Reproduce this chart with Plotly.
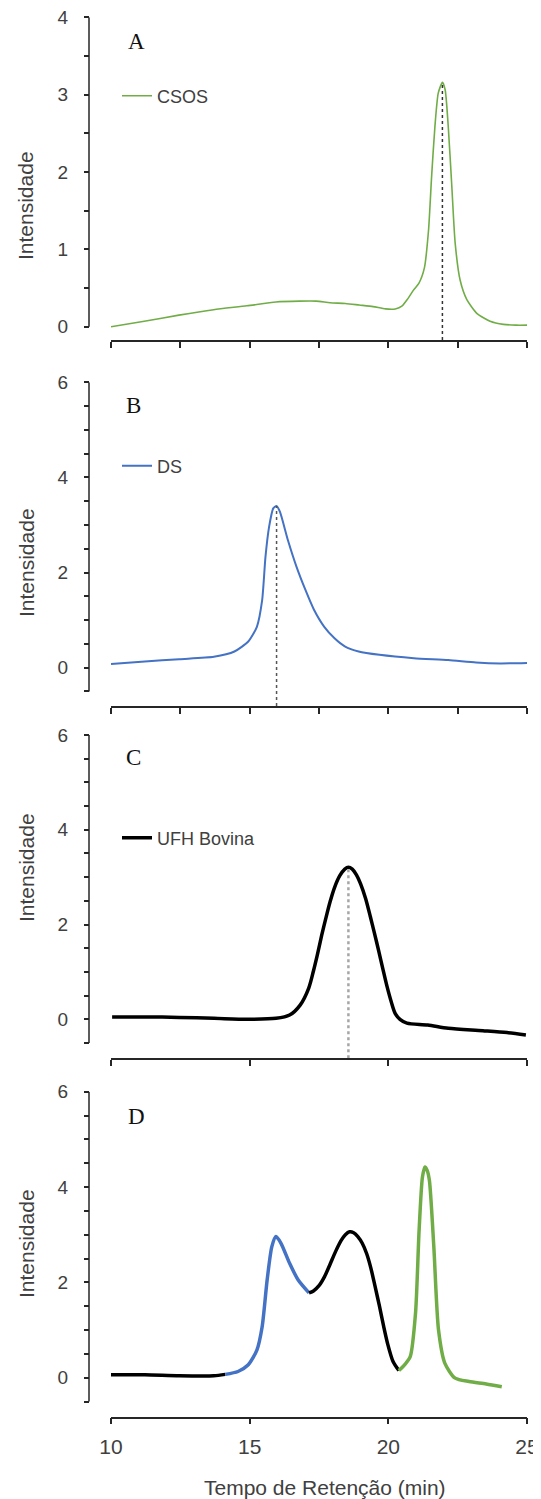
import plotly.graph_objects as go

# visible window is 541x1499; the page body has an 8px margin
OFF = 8
W, H = 541 - OFF, 1499 - OFF

# ---------------- data ----------------
# Panel A: CSOS
csos_x = [10.0, 11.2, 12.45, 13.7, 14.9, 15.95, 16.8, 17.4, 17.9, 18.45, 18.95, 19.45, 19.9,
          20.25, 20.5, 20.7, 20.9, 21.1, 21.3, 21.45, 21.56, 21.68, 21.8, 21.95, 22.05, 22.16,
          22.29, 22.41, 22.59, 22.83, 23.2, 23.67, 24.15, 24.6, 25.0]
csos_y = [0.0, 0.07, 0.15, 0.22, 0.27, 0.32, 0.33, 0.33, 0.31, 0.30, 0.28, 0.26, 0.23,
          0.23, 0.27, 0.36, 0.47, 0.56, 0.76, 1.25, 1.94, 2.59, 3.02, 3.16, 3.06, 2.59,
          1.81, 1.08, 0.60, 0.35, 0.17, 0.07, 0.03, 0.02, 0.02]

# Panel B: DS
ds_x = [10.0, 11.22, 12.46, 13.71, 14.45, 14.95, 15.26, 15.45, 15.57, 15.70, 15.85, 15.97,
        16.09, 16.38, 16.69, 17.0, 17.31, 17.69, 18.06, 18.43, 18.93, 19.68, 20.92, 22.16,
        23.16, 24.03, 25.0]
ds_y = [0.08, 0.13, 0.18, 0.23, 0.34, 0.55, 0.86, 1.42, 2.33, 2.96, 3.35, 3.40,
        3.28, 2.68, 2.12, 1.65, 1.23, 0.86, 0.62, 0.45, 0.34, 0.27, 0.20, 0.16,
        0.11, 0.09, 0.10]

# Panel C: UFH Bovina
ufh_x = [10.04, 11.22, 12.46, 13.71, 14.95, 15.95, 16.44, 16.82, 17.13, 17.3, 17.44, 17.6,
         17.75, 17.9, 18.06, 18.25, 18.43, 18.56, 18.7, 18.85, 19.0, 19.18, 19.35, 19.49,
         19.65, 19.80, 19.95, 20.11, 20.25, 20.42, 20.67, 21.42, 22.16, 23.41, 24.28, 24.96]
ufh_y = [0.05, 0.05, 0.04, 0.02, 0.0, 0.02, 0.09, 0.30, 0.66, 1.02, 1.36, 1.78,
         2.14, 2.48, 2.78, 3.03, 3.17, 3.21, 3.17, 3.05, 2.86, 2.55, 2.17, 1.84,
         1.45, 1.07, 0.70, 0.36, 0.12, 0.0, -0.08, -0.12, -0.19, -0.24, -0.28, -0.33]

# Panel D: mixture, coloured by component
mix_ufh_a_x = [10.0, 11.22, 12.46, 13.71, 14.12]
mix_ufh_a_y = [0.06, 0.06, 0.04, 0.04, 0.07]
mix_ds_x = [14.12, 14.58, 14.95, 15.26, 15.45, 15.63, 15.80, 15.95, 16.13, 16.44, 16.75, 17.14]
mix_ds_y = [0.07, 0.13, 0.27, 0.58, 1.07, 2.05, 2.75, 2.96, 2.82, 2.40, 2.05, 1.78]
mix_ufh_b_x = [17.14, 17.3, 17.5, 17.7, 17.9, 18.1, 18.3, 18.45, 18.6, 18.75, 18.9, 19.06,
               19.22, 19.37, 19.52, 19.68, 19.83, 19.98, 20.17, 20.38]
mix_ufh_b_y = [1.78, 1.82, 1.93, 2.12, 2.38, 2.65, 2.88, 3.00, 3.06, 3.04, 2.96, 2.82,
               2.60, 2.30, 1.92, 1.50, 1.08, 0.70, 0.34, 0.15]
mix_csos_x = [20.38, 20.6, 20.79, 20.98, 21.11, 21.23, 21.32, 21.40, 21.48, 21.64, 21.81,
              22.04, 22.41, 22.91, 23.53, 24.09]
mix_csos_y = [0.15, 0.28, 0.44, 1.35, 3.10, 4.21, 4.42, 4.35, 4.14, 2.75, 1.00,
              0.30, -0.01, -0.08, -0.13, -0.19]

panel_letters = ["A", "B", "C", "D"]
legend_names = ["CSOS", "DS", "UFH Bovina"]
x_tick_labels = [10, 15, 20, 25]
y_title = "Intensidade"
x_title = "Tempo de Retenção (min)"

# ---------------- style ----------------
FONT = "Liberation Sans, Arial, sans-serif"
SERIF = "Liberation Serif, Times New Roman, serif"
TXT = "#404040"
AXC = "#262626"
GREEN = "#70AD47"
BLUE = "#4472C4"
BLACK = "#000000"


def fx(p):
    """window pixel x -> paper fraction"""
    return (p - OFF) / W


def fy(p):
    """window pixel y -> paper fraction"""
    return 1 - (p - OFF) / H


# pixel geometry of each panel (window pixels)
panels = [
    dict(xline=340.0, ytop=17.3, yzero=326.7, top=4, bottom=0, dtick=1, xdtick=2.5),
    dict(xline=706.0, ytop=382.3, yzero=667.7, top=6, bottom=-0.5, dtick=2, xdtick=2.5),
    dict(xline=1058.3, ytop=735.0, yzero=1019.3, top=6, bottom=-0.5, dtick=2, xdtick=5),
    dict(xline=1416.7, ytop=1091.7, yzero=1377.7, top=6, bottom=-0.5, dtick=2, xdtick=5),
]
X0, X1, YAX = 111, 527, 89

fig = go.Figure()
layout = dict(width=W, height=H, margin=dict(l=0, r=0, t=0, b=0, pad=0, autoexpand=False),
              paper_bgcolor="white", plot_bgcolor="white", showlegend=True,
              font=dict(family=FONT, color=TXT))
shapes, annotations = [], []

for i, p in enumerate(panels):
    n = "" if i == 0 else str(i + 1)
    unit = (p["yzero"] - p["ytop"]) / p["top"]
    r_lo = -(p["xline"] - p["yzero"]) / unit
    p["r_lo"] = r_lo
    layout["xaxis" + n] = dict(
        domain=[fx(X0), fx(X1)], anchor="y" + n, range=[10, 25], automargin=False,
        showline=True, linecolor=AXC, linewidth=1.5, mirror=False,
        ticks="outside", ticklen=6, tickwidth=1.5, tickcolor=AXC,
        tick0=10, dtick=p["xdtick"], showgrid=False, zeroline=False,
        showticklabels=(i == 3), tickfont=dict(size=21, color=TXT),
        ticklabelstandoff=4, ticklabeloverflow="allow",
    )
    if i == 3:
        layout["xaxis" + n]["tickvals"] = x_tick_labels
    layout["yaxis" + n] = dict(
        domain=[fy(p["xline"]), fy(p["ytop"])], anchor="free", position=fx(YAX),
        range=[r_lo, p["top"]], automargin=False,
        showline=False, showgrid=False, zeroline=False,
        tick0=0, dtick=p["dtick"], ticks="outside", ticklen=5, tickwidth=1.5, tickcolor=AXC,
        tickfont=dict(size=19, color=TXT), ticklabelstandoff=12, ticklabeloverflow="allow",
        minor=dict(tick0=0, dtick=0.5, ticks="outside", ticklen=5, tickwidth=1.5, tickcolor=AXC),
    )
    # y-axis line from bottom value to top value
    shapes.append(dict(type="line", xref="paper", yref="y" + n, x0=fx(YAX), x1=fx(YAX),
                       y0=p["bottom"], y1=p["top"], line=dict(color=AXC, width=1.5)))
    annotations.append(dict(text=y_title, textangle=-90, xref="paper", yref="paper",
                            x=fx(26), y=fy([206, 563, 868, 1244][i]), showarrow=False,
                            xanchor="center", yanchor="middle",
                            font=dict(size=21, color=TXT, family=FONT)))
    annotations.append(dict(text=panel_letters[i], xref="paper", yref="paper",
                            x=fx([136, 133, 133, 136][i]), y=fy([41, 405, 757, 1116][i]),
                            showarrow=False, xanchor="center", yanchor="middle",
                            font=dict(size=23, color="#111111", family=SERIF)))

annotations.append(dict(text=x_title, xref="paper", yref="paper", x=fx(325), y=fy(1487),
                        showarrow=False, xanchor="center", yanchor="middle",
                        font=dict(size=21, color=TXT, family=FONT)))


def peak_line(xs, ys, axis_n, r_lo, color, width):
    k = max(range(len(ys)), key=lambda j: ys[j])
    fig.add_trace(go.Scatter(x=[xs[k], xs[k]], y=[r_lo, ys[k]], mode="lines",
                             line=dict(color=color, width=width, dash="dot"),
                             xaxis="x" + axis_n, yaxis="y" + axis_n,
                             showlegend=False, hoverinfo="skip"))


# Panel A
fig.add_trace(go.Scatter(x=csos_x, y=csos_y, mode="lines", name=legend_names[0],
                         line=dict(color=GREEN, width=1.6, shape="spline", smoothing=0.6),
                         xaxis="x", yaxis="y", legend="legend"))
peak_line(csos_x, csos_y, "", panels[0]["r_lo"], "#333333", 1.5)

# Panel B
fig.add_trace(go.Scatter(x=ds_x, y=ds_y, mode="lines", name=legend_names[1],
                         line=dict(color=BLUE, width=2, shape="spline", smoothing=0.6),
                         xaxis="x2", yaxis="y2", legend="legend2"))
peak_line(ds_x, ds_y, "2", panels[1]["r_lo"], "#555555", 1.5)

# Panel C
fig.add_trace(go.Scatter(x=ufh_x, y=ufh_y, mode="lines", name=legend_names[2],
                         line=dict(color=BLACK, width=3.5, shape="spline", smoothing=0.8),
                         xaxis="x3", yaxis="y3", legend="legend3"))
peak_line(ufh_x, ufh_y, "3", panels[2]["r_lo"], "#a6a6a6", 2.5)

# Panel D
for xs, ys, col in [(mix_ufh_a_x, mix_ufh_a_y, BLACK), (mix_ds_x, mix_ds_y, BLUE),
                    (mix_ufh_b_x, mix_ufh_b_y, BLACK), (mix_csos_x, mix_csos_y, GREEN)]:
    fig.add_trace(go.Scatter(x=xs, y=ys, mode="lines", showlegend=False,
                             line=dict(color=col, width=3.5, shape="spline", smoothing=0.7),
                             xaxis="x4", yaxis="y4"))

leg_common = dict(xanchor="left", yanchor="middle", bgcolor="rgba(0,0,0,0)", borderwidth=0,
                  font=dict(size=18, color=TXT, family=FONT), itemwidth=30)
layout["legend"] = dict(x=fx(117), y=fy(96), **leg_common)
layout["legend2"] = dict(x=fx(117), y=fy(466), **leg_common)
layout["legend3"] = dict(x=fx(117), y=fy(838), **leg_common)
layout["shapes"] = shapes
layout["annotations"] = annotations
fig.update_layout(**layout)

fig.write_html("out.html")
